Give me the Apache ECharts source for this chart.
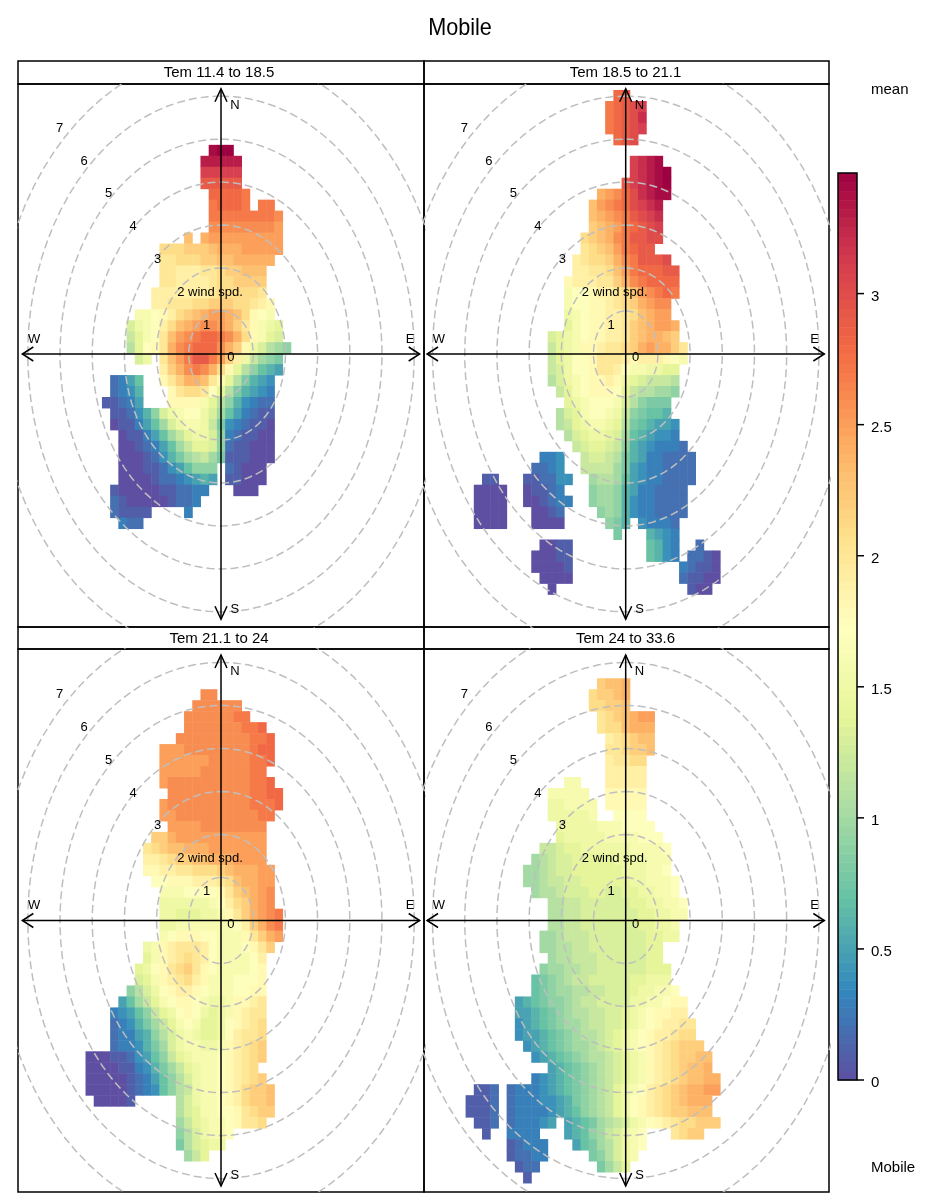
<!DOCTYPE html>
<html>
<head>
<meta charset="utf-8">
<title>Mobile</title>
<script src="https://cdn.jsdelivr.net/npm/echarts@6/dist/echarts.min.js"></script>
<style>
  html, body { margin: 0; padding: 0; background: #fff; }
  #chart { width: 947px; height: 1202px; }
</style>
</head>
<body>
<div id="chart"></div>
<script>
// mean Mobile. every run is [row, first column, values x10 ...]
const panelTitles = ['Tem 11.4 to 18.5', 'Tem 18.5 to 21.1', 'Tem 21.1 to 24', 'Tem 24 to 33.6'];
const ringSpeeds = [1, 2, 3, 4, 5, 6, 7];
const speedLabels = ['0', '1', '2 wind spd.', '3', '4', '5', '6', '7'];
const legendTicks = [0, 0.5, 1, 1.5, 2, 2.5, 3];
const legendMax = 3.46;
const spectral = ['#5E4FA2', '#3288BD', '#66C2A5', '#ABDDA4', '#E6F598', '#FFFFBF', '#FEE08B', '#FDAE61', '#F46D43', '#D53E4F', '#9E0142'];

const panel1Runs = [
  [5,-1,34,35,35],[6,-2,33,33,33,33,33],[7,-2,31,31,31,31,31],[8,-2,29,29,29,29,29],[9,-1,28,28,28,28,27],
  [10,-1,27,28,28,28,27],[10,5,27,27],[11,-1,27,27,27,27,27,27,27,27,26],[12,-1,26,26,26,26,26,26,26,26,25],
  [13,-4,23],[13,-2,24,25,25,25,25,25,25,25,25,25],[14,-7,21,21,21,22,22,22,23,24,24,24,25,25,25,25,25],
  [15,-7,20,20,21,21,21,22,22,23,23,24,24,24,24,24],[16,-7,20,20,19,19,19,20,20,21,22,22,23,23,23],
  [17,-7,20,20,19,19,19,19,20,21,21,22,22,22,22],[18,-8,19,19,19,19,19,19,19,20,21,21,21,21,21,20],
  [19,-8,19,19,20,20,20,21,21,22,22,22,21,21,20,19,18],[20,-10,16,16,17,18,19,21,22,23,24,25,25,24,23,21,18,17,16],
  [21,-11,13,15,16,17,19,21,23,24,25,26,26,25,24,22,20,18,16,15,14],
  [22,-11,12,14,16,17,20,23,25,26,27,28,28,27,26,24,21,18,16,14,13],
  [23,-11,11,14,17,18,20,24,26,27,28,28,28,26,24,22,18,15,13,11,10,9],
  [24,-10,13,15],[24,-7,20,23,25,27,29,29,27,25,22,19,15,12,10,9,8],
  [25,-7,19,22,24,26,27,26,24,21,18,14,11,9,7,6,5],
  [26,-13,2,3,5,7],[26,-7,18,20,22,24,24,23,20,18,14,11,8,6,5,4],
  [27,-13,2,3,4,6],[27,-6,18,20,21,21,20,17,14,11,8,6,5,4,3],
  [28,-14,1,1,2,3,5],[28,-6,18,18,18,18,16,14,11,9,6,4,3,2,2],
  [29,-13,1,1,2,4,6,9,13,15,16,17,17,15,13,10,7,5,3,2,1,1],
  [30,-13,0,1,1,3,5,7,10,13,15,16,16,15,12,8,4,3,2,1,1,0],
  [31,-12,0,1,1,3,5,7,10,12,14,15,15,13,9,3,2,1,1,0,0],
  [32,-12,0,0,1,2,3,5,7,10,12,14,14,13,9,2,1,1,0,0,0],
  [33,-12,0,0,0,1,2,4,6,8,10,11,12,10,8,1,1,1,0,0,0],
  [34,-12,0,0,0,1,1,2,4,5,7,9,9,9],[34,1,2,1,0,0,0],
  [35,-12,0,0,0,0,1,2,2,3,4,5,6,5],[35,1,1,1,0,0,0],
  [36,-13,1,0,0,0,0,0,1,1,2,2,3,3],[36,2,0,0,0],
  [37,-13,2,1,0,0,0,0,0,1,2,2,3],[38,-13,2,1,1,1,1],[38,-4,3],[39,-12,3,2,2]
];

const panel2Runs = [
  [0,-1,28,29],[1,-2,27,28,29,30,31],[2,-2,27,28,29,30,32],[3,-2,27,28,29,30,31],[4,-1,28,29,30],
  [6,1,31,32,33,34],[7,1,31,32,33,34,35],[8,0,29,31,32,33,34,35],[9,-3,24,25,26,28,30,32,33,34,34],
  [10,-4,23,25,26,27,28,30,31,32,33],[11,-4,23,24,25,26,27,29,30,31,32],[12,-4,22,23,24,25,27,28,29,30,31],
  [13,-5,21,22,23,24,26,27,29,29,30,30],[14,-5,20,21,22,23,25,27,28,29,29],
  [15,-6,19,20,21,21,22,24,26,27,29,29,29,30],[16,-6,19,19,20,20,21,23,25,27,28,28,28,29,29],
  [17,-7,18,19,19,19,20,20,22,24,26,27,28,28,28,28],[18,-7,16,17,17,18,19,19,20,21,23,25,26,27,28,27],
  [19,-7,16,17,17,18,18,19,20,21,22,24,25,26,26],[20,-7,15,16,17,18,18,19,19,20,21,23,24,25,25],
  [21,-7,14,16,17,18,18,19,19,20,22,23,24,25,25,24],[22,-9,13,14,15,16,17,18,18,19,19,20,22,23,24,24,23,22],
  [23,-9,12,14,15,16,18,18,19,20,20,21,22,24,25,24,24,22,20],[24,-9,12,14,15,17,17,18,20,20,20,19,18,19,19,19,18,17,16],
  [25,-9,12,13,15,17,17,18,20,20,19,17,16,16,15,15,14,14],[26,-9,11,13,15,16,17,18,18,19,18,15,14,13,12,12,12,11],
  [27,-8,12,14,16,17,18,18,18,17,14,12,11,11,10,10,9],[28,-7,14,15,16,17,17,17,16,13,11,9,8,8,8],
  [29,-8,11,13,14,16,17,17,16,15,12,9,8,7,7,6],[30,-8,11,12,14,15,16,16,15,14,11,8,7,6,5,5,4],
  [31,-7,11,13,14,15,15,14,13,10,7,6,5,4,4,3],[32,-6,12,13,14,14,13,12,9,6,5,4,3,3,3,2],
  [33,-10,3,3,4],[33,-5,12,13,13,12,11,8,6,5,3,3,2,2,2,2],
  [34,-11,2,2,3,4],[34,-5,12,12,12,12,10,8,5,4,3,3,2,2,2,2],
  [35,-17,1,1],[35,-12,1,1,2,2,4,4],[35,-4,10,11,11,10,7,5,4,3,3,2,2,2,2],
  [36,-18,0,0,0,0],[36,-12,0,1,1,2,3],[36,-4,9,10,10,9,6,5,3,3,2,2,2,2],
  [37,-18,0,0,0,0],[37,-12,0,0,1,2,3,3],[37,-4,9,10,10,9,6,4,3,3,2,2,2,2],
  [38,-18,0,0,0,0],[38,-11,0,0,1,2],[38,-3,9,10,9,6,4,3,3,2,2,2,2],
  [39,-18,0,0,0,0],[39,-11,0,0,0,0],[39,-2,9,8,6],[39,2,4,3,3,3,2],
  [40,-1,8],[40,3,6,5,4,3],[41,-10,0,0,1,1],[41,3,7,6,4,3],[41,9,2],
  [42,-11,0,0,0,1,1],[42,3,7,6,4,3],[42,8,2,2,1,0],[43,-11,0,0,0,0,1],[43,7,3,2,1,1,0],
  [44,-10,0,0,0,0],[44,7,2,1,1,0,0],[45,-9,0],[45,8,1,0,0]
];

const panel3Runs = [
  [3,-2,26,26],[4,-3,26,26,26,26,26,26],[5,-4,26,26,26,26,26,26,27,27],[6,-4,26,26,26,26,26,26,26,27,27,28],
  [7,-5,26,26,26,26,26,26,26,26,26,27,27,28],[8,-7,25,25,25,26,26,26,26,26,26,26,26,27,28,28],
  [9,-7,25,25,25,25,25,25,26,26,26,26,26,27,27,28],[10,-7,25,25,25,25,25,26,26,26,26,26,26,27,27],
  [11,-7,25,26,26,26,26,26,26,26,26,26,26,27,27,28],[12,-6,26,26,26,26,26,26,26,26,26,26,27,27,28,28],
  [13,-7,25,26,26,26,26,26,26,26,26,26,26,27,27,27,28],[14,-7,25,25,26,26,26,26,26,26,26,26,26,26,27,27],
  [15,-6,25,25,25,25,26,26,26,26,26,26,26,26],[16,-8,22,22,24,25,25,25,25,25,25,25,25,25,25,25],
  [17,-9,20,21,22,23,23,24,24,24,25,25,25,25,25,25,25],[18,-9,19,19,20,21,22,22,23,23,24,24,24,25,25,25,25],
  [19,-9,18,18,19,19,20,20,21,21,21,22,23,24,24,24,25,25],[20,-8,17,17,18,18,18,19,19,19,20,21,23,24,24,25,25],
  [21,-7,16,16,16,17,17,17,17,18,20,22,23,24,25,26],[22,-7,15,15,15,15,15,15,16,17,19,21,22,24,25,26],
  [23,-7,15,15,14,14,14,15,15,16,18,20,22,24,25,26,27],[24,-7,15,15,16,16,16,16,16,16,16,17,19,22,24,26,27],
  [25,-7,16,17,18,18,18,17,17,16,16,16,18,20,22,24,25],[26,-9,15,16,18,19,20,20,20,19,17,16,16,16,17,18,20,22],
  [27,-9,14,16,18,19,20,21,20,19,17,16,16,16,16,17,19],[28,-10,14,15,17,18,20,21,22,20,18,17,16,16,16,16,17,18],
  [29,-10,13,14,16,18,19,20,21,19,18,16,16,16,17,17,17,18],[30,-11,9,11,13,15,17,18,19,19,18,17,16,16,16,17,17,18,18],
  [31,-12,5,7,10,12,14,16,17,18,18,17,16,15,15,16,18,18,19,20],
  [32,-13,3,4,5,7,9,12,14,15,17,18,17,15,14,15,16,18,19,20,20],
  [33,-13,2,3,4,6,8,10,12,14,16,17,16,14,14,15,17,18,19,20,21],
  [34,-13,2,3,3,5,6,9,11,13,15,16,15,14,14,15,17,19,20,20,21],
  [35,-13,2,3,3,4,6,8,10,13,15,16,16,15,15,16,18,19,20,21,22],
  [36,-16,0,0,0,1,1,2,4,5,7,9,12,14,15,16,16,16,17,18,19,20,21,22],
  [37,-16,0,0,0,0,1,1,3,4,6,8,10,12,14,15,16,16,17,18,19,20,21],
  [38,-16,0,0,0,0,0,1,2,3,5,7,9,11,13,15,16,16,17,18,19,20,21,22],
  [39,-16,0,0,0,0,0,1,2,3,4,7,9,11,12,15,16,16,17,18,19,21,22,22,23],
  [40,-15,0,0,0,0,1],[40,-5,11,13,15,16,16,17,18,19,21,22,22,23],[41,-5,11,13,14,16,16,17,17,18,20,21,22,22],
  [42,-5,10,12,14,15,16,16,17,18,20,20,21],[43,-5,9,11,13,15,16,16,17],[44,-5,8,11,13,14,15,15],[45,-4,10,12,14]
];

const panel4Runs = [
  [2,-3,22,23,23,24],[3,-4,21,22,22,23,24],[4,-4,21,21,22,22,23],[5,-3,20,21,22,23,24,25,25],[6,-3,20,21,21,23,24,24,24],
  [7,-2,19,20,21,22,23,23],[8,-2,20,20,21,22,22,23],[9,-2,19,20,20,21,21],[10,-2,19,19,19,19,19],
  [11,-7,16,16],[11,-2,19,19,19,19,19],[12,-9,16,16,16,16,16],[12,-2,18,18,18,18,18],
  [13,-9,15,15,16,16,16,16],[13,-2,18,18,18,18,18],[14,-9,15,15,15,15,15,16],[14,-1,17,17,17,17],
  [15,-8,15,15,15,15,15,16,16,16,17,17,17,17],[16,-8,14,15,15,15,15,15,16,16,16,16,17,17,17],
  [17,-10,12,12,13,14,14,15,15,15,15,15,15,16,16,16,16,17],[18,-11,10,11,12,13,13,14,14,14,14,14,15,15,15,15,16,16,16],
  [19,-12,10,10,11,12,13,13,14,14,14,14,14,14,15,15,15,16,16,17],[20,-12,10,10,11,12,12,13,13,14,14,14,14,14,14,15,15,16,16,16,17],
  [21,-11,10,11,11,12,13,13,13,14,14,13,13,14,14,15,15,16,16,17],[22,-9,11,11,12,12,13,13,13,13,13,13,14,14,15,15,16,16,17],
  [23,-9,11,11,12,12,13,13,13,13,13,13,13,14,14,15,15,16,16],[24,-9,11,11,12,12,13,13,13,13,13,13,13,14,14,15,15,16],
  [25,-10,10,10,11,12,12,12,13,13,13,13,13,13,13,14,14,15,15],[26,-10,10,10,11,11,12,12,13,13,13,13,13,13,13,14,14],
  [27,-9,10,11,11,12,12,12,13,13,13,13,13,13,14,14],[28,-10,9,10,10,11,11,12,12,13,13,13,13,13,13,14,14,14],
  [29,-11,7,8,9,10,11,12,12,13,13,13,13,13,14,14,15,15,15],[30,-11,7,8,9,10,10,11,11,12,12,13,13,13,14,15,15,16,16,17],
  [31,-13,5,6,7,8,9,9,10,11,12,12,13,13,13,13,15,15,16,16,17,18,18],
  [32,-13,5,5,6,7,8,9,10,11,11,12,12,13,13,14,15,16,17,18,18,19,19],
  [33,-13,4,5,6,7,8,9,10,10,11,12,12,13,13,14,15,16,17,18,19,19,20,20],
  [34,-13,4,5,5,6,7,8,9,10,11,11,12,13,14,15,16,17,18,19,19,20,21,21],
  [35,-12,4,5,6,7,8,9,10,10,11,12,13,14,15,16,17,18,19,20,21,22,22,22],
  [36,-11,4,5,6,7,8,9,10,11,11,12,13,14,15,16,18,19,20,21,22,22,23,23],
  [37,-9,5,6,7,8,9,10,11,12,13,14,15,16,18,19,20,21,22,23,23,24],
  [38,-11,3,4,5,6,7,8,9,10,11,12,13,14,15,16,18,19,20,21,22,23,23,24,24],
  [39,-18,1,1,2],[39,-14,2,3,3,3,4,5,6,7,8,9,10,11,12,14,15,16,17,19,20,21,22,23,24,24,25,25],
  [40,-19,1,1,1,2],[40,-14,2,3,3,3,4,4,5,6,8,9,10,11,12,14,15,17,18,19,20,21,22,23,24,24,24],
  [41,-19,1,1,1,2],[41,-14,2,3,3,3,3,4,5,6,7,9,10,11,12,14,15,17,18,19,20,21,22,22,23,23,23],
  [42,-18,1,1,2],[42,-14,2,3,3,3,4,5],[42,-7,5,6,7,8,10,11,12,13,15,16,17,18,19,20,21,21,22,22,22],
  [43,-17,1],[43,-14,3,3,3,3],[43,-7,5,6,7,9,10,12,13,15,16,17],[43,6,20,21,22,22],
  [44,-14,1,2,3,3,3],[44,-6,5,7,8,10,11,13,15,16,17],[45,-14,1,2,2,3,3],[45,-4,8,9,11,13,15,16],
  [46,-13,1,2,2],[46,-3,8,10,12,14],[47,-12,1]
];

const cellStep = 0.255;
const topSpeed = 6.14;
const arrowReach = 6.17;
const fontName = '"Liberation Sans", Arial, sans-serif';

const panels = [
  { runs: panel1Runs, left: 18, top: 84, width: 406, height: 543, x: [-6.304, 6.304], y: [-6.35, 6.28] },
  { runs: panel2Runs, left: 424, top: 84, width: 405, height: 543, x: [-6.264, 6.314], y: [-6.35, 6.28] },
  { runs: panel3Runs, left: 18, top: 649, width: 406, height: 543, x: [-6.304, 6.304], y: [-6.31, 6.31] },
  { runs: panel4Runs, left: 424, top: 649, width: 405, height: 543, x: [-6.264, 6.314], y: [-6.31, 6.31] }
];

function toCells(runs) {
  const cells = [];
  runs.forEach(([row, col, ...vals]) => {
    vals.forEach((v, k) => {
      cells.push([(col + k) * cellStep, topSpeed - (row + 0.5) * cellStep, v / 10]);
    });
  });
  return cells;
}

function renderCell(params, api) {
  const c = api.coord([api.value(0), api.value(1)]);
  const s = api.size([cellStep, cellStep]);
  return {
    type: 'rect',
    shape: { x: c[0] - s[0] / 2, y: c[1] - s[1] / 2, width: s[0] + 0.5, height: s[1] + 0.5 },
    style: { fill: api.visual('color') }
  };
}

function renderLegendCell(params, api) {
  const c = api.coord([0.5, api.value(1)]);
  const s = api.size([1, legendMax / 100]);
  return {
    type: 'rect',
    shape: { x: c[0] - s[0] / 2, y: c[1] - s[1] / 2, width: s[0], height: s[1] + 0.5 },
    style: { fill: api.visual('color') }
  };
}

function renderLegendTick(params, api) {
  const c = api.coord([1, api.value(1)]);
  return {
    type: 'group',
    children: [
      {
        type: 'polyline',
        shape: { points: [[c[0], c[1]], [c[0] + 7, c[1]]] },
        style: { stroke: '#000', lineWidth: 1.5, fill: 'none' }
      },
      {
        type: 'text',
        x: c[0] + 14,
        y: c[1] + 3,
        style: {
          text: String(legendTicks[params.dataIndex]),
          fill: '#000',
          font: '15px ' + fontName,
          align: 'left',
          verticalAlign: 'middle'
        }
      }
    ]
  };
}

function renderArrows(params, api) {
  const stroke = { stroke: '#000', lineWidth: 1.5, fill: 'none' };
  const line = (a, b) => ({ type: 'polyline', shape: { points: [a, b] }, style: stroke });
  const head = (p, dx, dy) => ({
    type: 'polyline',
    shape: { points: [[p[0] + dx[0], p[1] + dx[1]], p, [p[0] + dy[0], p[1] + dy[1]]] },
    style: stroke
  });
  const n = api.coord([0, arrowReach]);
  const s = api.coord([0, -arrowReach]);
  const w = api.coord([-arrowReach, 0]);
  const e = api.coord([arrowReach, 0]);
  return {
    type: 'group',
    children: [
      line(n, s), line(w, e),
      head(n, [-6, 13], [6, 13]), head(s, [-6, -13], [6, -13]),
      head(w, [11, -7], [11, 7]), head(e, [-11, -7], [-11, 7])
    ]
  };
}

const grids = [];
const xAxes = [];
const yAxes = [];
const cellSeries = [];
const overlaySeries = [];

// labels sit along a diagonal, in speed units
const labelData = speedLabels.map((t, r) => [
  (r === 2 ? -0.34 : 0.31 - 0.76 * r),
  -0.09 + 0.763 * r,
  t
]);
const compassData = [[0.43, 5.79, 'N'], [0.43, -5.93, 'S'], [-5.8, 0.35, 'W'], [5.87, 0.35, 'E']];
const panelLabels = labelData.concat(compassData);

function renderLabel(params, api) {
  const c = api.coord([api.value(0), api.value(1)]);
  return {
    type: 'text',
    x: c[0],
    y: c[1],
    style: {
      text: panelLabels[params.dataIndex][2],
      fill: '#000',
      font: '13px ' + fontName,
      align: 'center',
      verticalAlign: 'middle'
    }
  };
}

panels.forEach((p, i) => {
  grids.push({ left: p.left, top: p.top, width: p.width, height: p.height, show: true, borderColor: '#000', borderWidth: 1.5, backgroundColor: 'transparent' });
  xAxes.push({ type: 'value', gridIndex: i, min: p.x[0], max: p.x[1], show: false });
  yAxes.push({ type: 'value', gridIndex: i, min: p.y[0], max: p.y[1], show: false });
  cellSeries.push({
    type: 'custom', xAxisIndex: i, yAxisIndex: i, z: 2, silent: true,
    renderItem: renderCell, encode: { x: 0, y: 1 }, data: toCells(p.runs)
  });
  ringSpeeds.forEach(r => {
    const pts = [];
    for (let a = 0; a <= 360; a += 4) {
      pts.push([r * Math.sin(a * Math.PI / 180), r * Math.cos(a * Math.PI / 180)]);
    }
    overlaySeries.push({
      type: 'line', xAxisIndex: i, yAxisIndex: i, z: 3, silent: true, showSymbol: false,
      lineStyle: { color: '#BEBEBE', width: 1.5, type: [8, 4] }, data: pts
    });
  });
  overlaySeries.push({
    type: 'custom', xAxisIndex: i, yAxisIndex: i, z: 4, silent: true,
    renderItem: renderArrows, data: [[0, 0]]
  });
  overlaySeries.push({
    type: 'custom', xAxisIndex: i, yAxisIndex: i, z: 5, silent: true,
    renderItem: renderLabel, encode: { x: 0, y: 1 }, data: panelLabels.map(d => [d[0], d[1]])
  });
});

// colour key
const legendLevels = [];
for (let k = 0; k < 100; k++) {
  const level = (k + 0.5) * legendMax / 100;
  legendLevels.push([0.5, level, level]);
}
grids.push({ left: 838, top: 173, width: 19, height: 907, show: true, borderColor: '#000', borderWidth: 1.5, backgroundColor: 'transparent', z: 8 });
xAxes.push({ type: 'value', gridIndex: 4, min: 0, max: 1, show: false });
yAxes.push({ type: 'value', gridIndex: 4, min: 0, max: legendMax, show: false });
cellSeries.push({
  type: 'custom', xAxisIndex: 4, yAxisIndex: 4, z: 2, silent: true,
  renderItem: renderLegendCell, encode: { x: 0, y: 1 }, data: legendLevels
});
overlaySeries.push({
  type: 'custom', xAxisIndex: 4, yAxisIndex: 4, z: 5, silent: true,
  renderItem: renderLegendTick, encode: { x: 0, y: 1 }, data: legendTicks.map(v => [1, v])
});

const stripRects = [[18, 61, 406, 23], [424, 61, 405, 23], [18, 627, 406, 22], [424, 627, 405, 22]];
const graphics = [];
stripRects.forEach((r, i) => {
  graphics.push({
    type: 'rect', silent: true, shape: { x: r[0], y: r[1], width: r[2], height: r[3] },
    style: { fill: 'none', stroke: '#000', lineWidth: 1.5 }
  });
  graphics.push({
    type: 'text', silent: true, x: r[0] + r[2] / 2 + (i % 2 ? -1 : -2), y: r[1] + 12,
    style: { text: panelTitles[i], fill: '#000', font: '15px ' + fontName, align: 'center', verticalAlign: 'middle' }
  });
});
const freeText = [['Mobile', 460, 28, 24, 'center', 0.9], ['mean', 871, 90, 15, 'left', 1], ['Mobile', 871, 1168, 15, 'left', 1]];
freeText.forEach(t => {
  graphics.push({
    type: 'text', silent: true, x: t[1], y: t[2], scaleX: t[5],
    style: { text: t[0], fill: '#000', font: t[3] + 'px ' + fontName, align: t[4], verticalAlign: 'middle' }
  });
});

const myChart = echarts.init(document.getElementById('chart'), null, { renderer: 'canvas' });
myChart.setOption({
  animation: false,
  backgroundColor: '#fff',
  tooltip: { show: false },
  grid: grids,
  xAxis: xAxes,
  yAxis: yAxes,
  visualMap: {
    show: false, type: 'continuous', min: 0, max: legendMax, dimension: 2,
    seriesIndex: [0, 1, 2, 3, 4], inRange: { color: spectral }
  },
  graphic: graphics,
  series: cellSeries.concat(overlaySeries)
});
</script>
</body>
</html>
